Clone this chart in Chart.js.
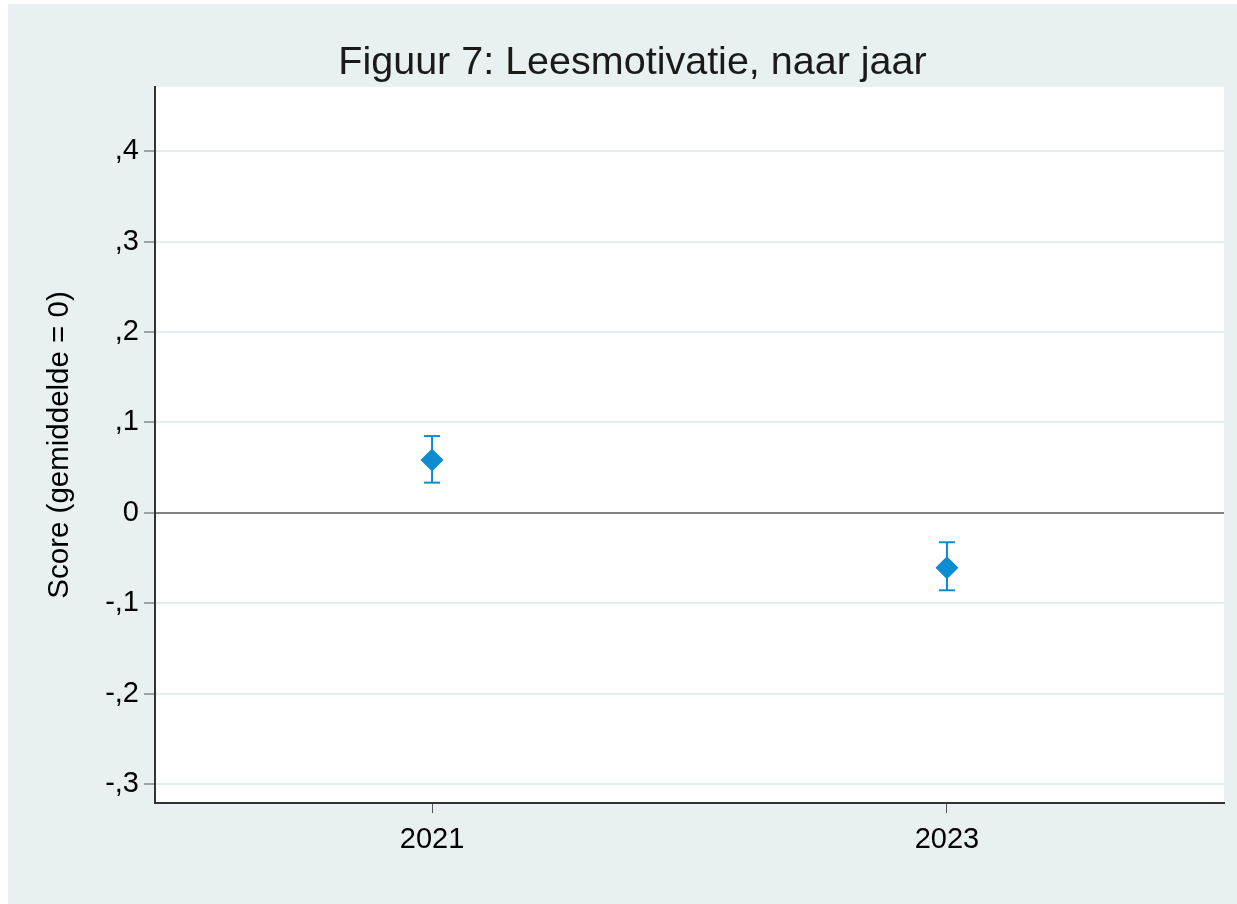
<!DOCTYPE html>
<html>
<head>
<meta charset="utf-8">
<script src="https://cdn.jsdelivr.net/npm/chart.js@4"></script>
<style>
  body { margin: 0; background: #ffffff; }
  #wrap { position: absolute; left: 8px; top: 4px; width: 1229px; height: 900px; }
</style>
</head>
<body>
<div id="wrap"><canvas id="plot_chart" width="1229" height="900"></canvas></div>
<script>
const ctx = document.querySelector('#plot_chart')

// data
const years = [2021, 2023];
const means = [0.0586, -0.0605];
const lower = [0.0335, -0.0855];
const upper = [0.0850, -0.0324];

const yTickValues = [-0.3, -0.2, -0.1, 0, 0.1, 0.2, 0.3, 0.4];
const yTickLabels = ['-,3', '-,2', '-,1', '0', ',1', ',2', ',3', ',4'];
const xTickValues = [2021, 2023];
const xTickLabels = ['2021', '2023'];

const blue = '#0d8bd3';
const font = 'Liberation Sans, Arial, sans-serif';

const meanPoints = years.map((y, i) => ({ x: y, y: means[i] }));
const ciPoints = [];
years.forEach((y, i) => {
    ciPoints.push({ x: y, y: lower[i] });
    ciPoints.push({ x: y, y: upper[i] });
    ciPoints.push({ x: y, y: null });
});

const background = {
    id: 'background',
    beforeDraw(chart) {
        const c = chart.ctx;
        const a = chart.chartArea;
        c.save();
        c.fillStyle = '#e8f0f2';
        c.fillRect(0, 0, chart.width, chart.height);
        c.fillStyle = '#ffffff';
        c.fillRect(a.left, a.top, a.right - a.left, a.bottom - a.top);
        c.restore();
    }
};

const data = {
    datasets: [
        {
            data: meanPoints,
            pointStyle: 'rectRot',
            pointRadius: 11.5,
            backgroundColor: blue,
            borderColor: blue,
            pointBorderWidth: 0,
            showLine: false
        },
        {
            data: ciPoints,
            showLine: true,
            spanGaps: false,
            borderColor: blue,
            borderWidth: 2,
            pointStyle: 'line',
            pointRadius: 8,
            pointBorderColor: blue,
            pointBorderWidth: 2
        }
    ]
};

const options = {
    responsive: false,
    animation: false,
    devicePixelRatio: 1,
    layout: {
        padding: { left: 33, right: 13, top: 0, bottom: 0 }
    },
    plugins: {
        legend: false,
        tooltip: { enabled: false },
        title: {
            display: true,
            text: 'Figuur 7: Leesmotivatie, naar jaar',
            color: '#1a1a1a',
            font: { family: font, size: 39.5, weight: 'normal', lineHeight: 1.1 },
            padding: { top: 37, bottom: 2.5 }
        }
    },
    scales: {
        x: {
            type: 'linear',
            min: 2019.924,
            max: 2024.076,
            afterBuildTicks: axis => {
                axis.ticks = xTickValues.map(v => ({ value: v }));
            },
            afterFit: axis => { axis.height = 101; },
            grid: {
                drawOnChartArea: false,
                tickLength: 10,
                tickColor: '#555555',
                tickWidth: 1
            },
            border: { color: '#333333', width: 2 },
            ticks: {
                color: '#000000',
                padding: 10,
                font: { family: font, size: 29 },
                callback: value => xTickLabels[xTickValues.indexOf(value)]
            }
        },
        y: {
            min: -0.3207,
            max: 0.471,
            afterBuildTicks: axis => {
                axis.ticks = yTickValues.map(v => ({ value: v }));
            },
            afterFit: axis => { axis.width = 114; },
            grid: {
                color: c => (c.tick && c.tick.value === 0) ? '#808080' : '#e4edef',
                lineWidth: 2,
                tickLength: 11,
                tickColor: '#555555',
                tickWidth: 1
            },
            border: { color: '#333333', width: 2 },
            ticks: {
                color: '#000000',
                padding: 5,
                font: { family: font, size: 29 },
                callback: value => yTickLabels[yTickValues.indexOf(value)]
            },
            title: {
                display: true,
                text: 'Score (gemiddelde = 0)',
                color: '#000000',
                font: { family: font, size: 29.5 },
                padding: { top: 1, bottom: 0 }
            }
        }
    }
}

new Chart(ctx, {
    type: 'scatter',
    data: data,
    options: options,
    plugins: [background]
})
</script>
</body>
</html>
